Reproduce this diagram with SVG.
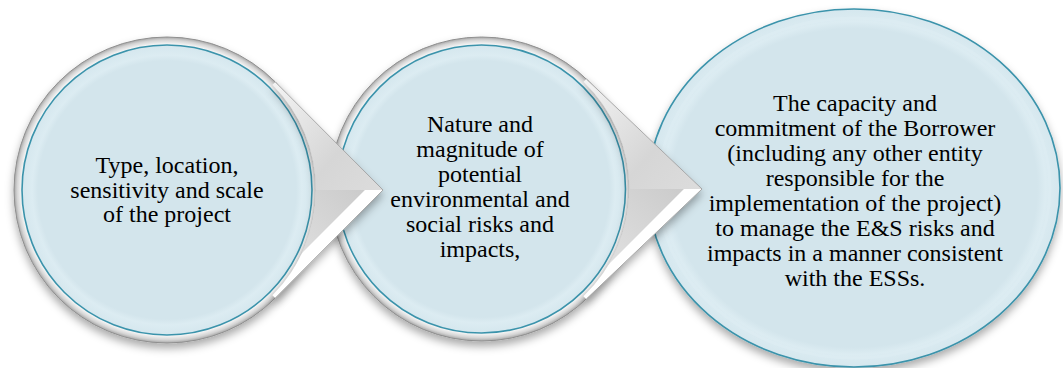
<svg xmlns="http://www.w3.org/2000/svg" width="1063" height="368" viewBox="0 0 1063 368">
<style>
.txt{font-family:"Liberation Serif","Times New Roman",serif;font-size:24px;fill:#000;text-anchor:middle}
.blue{fill:url(#blueG);stroke:#3b93ab;stroke-width:1.6}
.silver{fill:url(#silverG);stroke:#8f8f8f;stroke-width:1}
.pfill{fill:url(#ptrG)}
.pedge{fill:none;stroke:#a0a0a0;stroke-width:0.9}
.strip{fill:#ffffff}
.lface{fill:url(#lowG)}
</style>
<defs>
<filter id="sh" x="-20%" y="-20%" width="140%" height="150%">
<feDropShadow dx="0" dy="5" stdDeviation="4" flood-color="#000" flood-opacity="0.33"/>
</filter>
<radialGradient id="blueG" cx="0.5" cy="0.5" r="0.5">
<stop offset="0" stop-color="#d3e5ec"/>
<stop offset="0.89" stop-color="#d3e5ec"/>
<stop offset="0.93" stop-color="#dcecf2"/>
<stop offset="1" stop-color="#d5e7ee"/>
</radialGradient>
<radialGradient id="silverG" cx="0.5" cy="0.5" r="0.5">
<stop offset="0" stop-color="#ffffff"/>
<stop offset="0.945" stop-color="#ffffff"/>
<stop offset="0.98" stop-color="#d4d4d4"/>
<stop offset="1" stop-color="#a6a6a6"/>
</radialGradient>
<linearGradient id="ptrG" x1="0" y1="0" x2="0.6" y2="1">
<stop offset="0" stop-color="#f4f4f4"/>
<stop offset="0.5" stop-color="#d6d6d6"/>
<stop offset="1" stop-color="#e0e0e0"/>
</linearGradient>
<linearGradient id="lowG" x1="1" y1="0" x2="0" y2="1">
<stop offset="0" stop-color="#cbcbcb"/>
<stop offset="1" stop-color="#ebebeb"/>
</linearGradient>
<clipPath id="clip1"><path d="M 275.4 82 L 383 190 L 275.4 298 L 272.5 295.2 A 149 149 0 0 0 272.5 84.8 Z"/></clipPath>
<clipPath id="clip2"><path d="M 586.3 78.9 L 702 189 L 586.3 299.1 L 583.5 296.2 A 148 148 0 0 0 583.5 81.8 Z"/></clipPath>
</defs>

<g id="node3">
<ellipse class="blue" cx="854" cy="188" rx="206" ry="179" filter="url(#sh)"/>
<ellipse cx="854" cy="188" rx="196" ry="170" fill="none" stroke="#deedf3" stroke-width="3" opacity="0.6"/>
<text class="txt" x="855" y="110.5">The capacity and</text>
<text class="txt" x="855" y="135.5">commitment of the Borrower</text>
<text class="txt" x="855" y="160.5">(including any other entity</text>
<text class="txt" x="855" y="185.5">responsible for the</text>
<text class="txt" x="855" y="210.5">implementation of the project)</text>
<text class="txt" x="855" y="235.5">to manage the E&amp;S risks and</text>
<text class="txt" x="855" y="260.5">impacts in a manner consistent</text>
<text class="txt" x="855" y="285.5">with the ESSs.</text>
</g>

<g id="node2">
<circle class="silver" cx="481.5" cy="189" r="152" filter="url(#sh)"/>
<circle class="blue" cx="481.5" cy="189" r="144"/>
<text class="txt" x="480" y="131.5">Nature and</text>
<text class="txt" x="480" y="156.5">magnitude of</text>
<text class="txt" x="480" y="181.5">potential</text>
<text class="txt" x="480" y="206.5">environmental and</text>
<text class="txt" x="480" y="231.5">social risks and</text>
<text class="txt" x="480" y="256.5">impacts,</text>
</g>

<g id="node1">
<circle class="silver" cx="167" cy="190" r="153" filter="url(#sh)"/>
<circle class="blue" cx="167" cy="190" r="145"/>
<text class="txt" x="167" y="173">Type, location,</text>
<text class="txt" x="167" y="197.5">sensitivity and scale</text>
<text class="txt" x="167" y="222">of the project</text>
</g>

<g id="connectors">
<g id="pointer1">
<path class="pfill" d="M 275.4 82 L 383 190 L 275.4 298 L 272.5 295.2 A 149 149 0 0 0 272.5 84.8 Z" filter="url(#sh)"/>
<g clip-path="url(#clip1)">
<polygon class="lface" points="365,190 250,190 250,298 257,298"/>
<polygon class="strip" points="383,190 275.4,298 257,298 365,190"/>
</g>
<polyline class="pedge" points="275.4,82 383,190 275.4,298"/>
</g>
<g id="pointer2">
<path class="pfill" d="M 586.3 78.9 L 702 189 L 586.3 299.1 L 583.5 296.2 A 148 148 0 0 0 583.5 81.8 Z" filter="url(#sh)"/>
<g clip-path="url(#clip2)">
<polygon class="lface" points="684,189 560,189 560,299 574,299"/>
<polygon class="strip" points="702,189 586.3,299.1 574,299 684,189"/>
</g>
<polyline class="pedge" points="586.3,78.9 702,189 586.3,299.1"/>
</g>
</g>
</svg>
